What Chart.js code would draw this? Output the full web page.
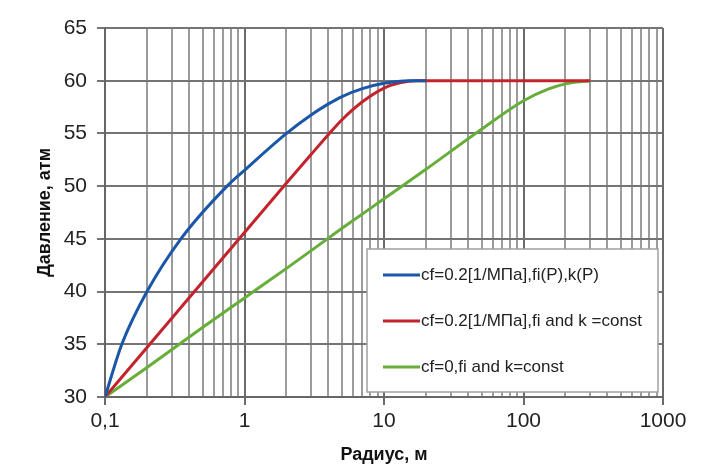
<!DOCTYPE html>
<html lang="ru">
<head>
<meta charset="UTF-8">
<title>Давление vs Радиус</title>
<script src="https://cdn.jsdelivr.net/npm/chart.js@4.4.0/dist/chart.umd.min.js"></script>
<style>
  html, body { margin: 0; padding: 0; background: #fff; }
  #wrap { width: 712px; height: 466px; position: relative; }
</style>
</head>
<body>
<div id="wrap"><canvas id="chart" width="712" height="466"></canvas></div>
<script>
// series (radius in m, pressure in atm)
var blueR = [0.1, 0.132, 0.2, 0.35, 0.75, 1, 2, 3, 4, 5, 7, 10, 15, 20];
var blueP = [30, 35, 40, 45, 50, 51.5, 55, 56.75, 57.8, 58.5, 59.25, 59.75, 60, 60];

var redR = [0.1, 0.2, 0.5, 1, 2, 3, 4, 5, 7, 10, 13, 17, 50, 100, 300];
var redP = [30, 34.7, 40.9, 45.6, 50.3, 53, 54.9, 56.3, 58, 59.3, 59.8, 60, 60, 60, 60];

var greenR = [0.1, 0.2, 0.5, 1, 2, 5, 10, 20, 50, 100, 150, 200, 300];
var greenP = [30, 32.8, 36.6, 39.4, 42.2, 46, 48.8, 51.6, 55.4, 58.1, 59.2, 59.7, 60];

var seriesNames = [
  'cf=0.2[1/МПа],fi(P),k(P)',
  'cf=0.2[1/МПа],fi and k =const',
  'cf=0,fi and k=const'
];
var seriesColors = ['#1b57a8', '#c3242c', '#67ad3a'];

var xTitle = 'Радиус, м';
var yTitle = 'Давление, атм';

function pts(xs, ys) {
  return xs.map(function (x, i) { return { x: x, y: ys[i] }; });
}

function isDecade(v) {
  var l = Math.log10(v);
  return Math.abs(l - Math.round(l)) < 1e-9;
}

var FONT = '"Liberation Sans", Arial, sans-serif';

// legend box drawn inside the plot area
var boxLegend = {
  id: 'boxLegend',
  afterDatasetsDraw: function (chart) {
    var ctx = chart.ctx, a = chart.chartArea;
    var x0 = a.left + 262, y0 = a.top + 221, w = 291, h = 143;
    ctx.save();
    ctx.fillStyle = '#fff';
    ctx.fillRect(x0, y0, w, h);
    ctx.strokeStyle = '#a0a0a0';
    ctx.lineWidth = 1.5;
    ctx.strokeRect(x0, y0, w, h);
    ctx.font = '17px ' + FONT;
    ctx.textBaseline = 'middle';
    chart.data.datasets.forEach(function (ds, i) {
      var yy = y0 + 26 + i * 46;
      ctx.strokeStyle = ds.borderColor;
      ctx.lineWidth = 3;
      ctx.beginPath();
      ctx.moveTo(x0 + 16, yy);
      ctx.lineTo(x0 + 53, yy);
      ctx.stroke();
      ctx.fillStyle = '#222';
      ctx.fillText(ds.label, x0 + 54, yy);
    });
    ctx.restore();
  }
};

new Chart(document.getElementById('chart'), {
  type: 'line',
  data: {
    datasets: [
      { label: seriesNames[0], data: pts(blueR, blueP), borderColor: seriesColors[0] },
      { label: seriesNames[1], data: pts(redR, redP), borderColor: seriesColors[1] },
      { label: seriesNames[2], data: pts(greenR, greenP), borderColor: seriesColors[2] }
    ]
  },
  options: {
    responsive: false,
    animation: false,
    layout: { padding: { top: 28, right: 49, left: 0, bottom: 0 } },
    elements: {
      line: { borderWidth: 3, cubicInterpolationMode: 'monotone', fill: false },
      point: { radius: 0 }
    },
    plugins: {
      legend: { display: false },
      tooltip: { enabled: false }
    },
    scales: {
      x: {
        type: 'logarithmic',
        min: 0.1,
        max: 1000,
        afterBuildTicks: function (scale) {
          var t = [];
          for (var e = -1; e <= 2; e++) {
            for (var m = 1; m <= 9; m++) t.push({ value: m * Math.pow(10, e) });
          }
          t.push({ value: 1000 });
          scale.ticks = t;
        },
        afterFit: function (scale) { scale.height = 69; },
        border: { color: '#666', width: 2 },
        grid: {
          color: function (c) { return c.tick && isDecade(c.tick.value) ? '#6a6a6a' : '#9c9c9c'; },
          lineWidth: 2,
          tickLength: 8,
          tickColor: function (c) { return c.tick && isDecade(c.tick.value) ? '#6a6a6a' : 'rgba(0,0,0,0)'; }
        },
        ticks: {
          autoSkip: false,
          maxRotation: 0,
          padding: 4,
          color: '#222',
          font: { family: FONT, size: 21 },
          callback: function (v) {
            if (!isDecade(v)) return '';
            return v < 1 ? String(v).replace('.', ',') : String(v);
          }
        },
        title: {
          display: true,
          text: xTitle,
          color: '#111',
          padding: { top: 0, bottom: 0 },
          font: { family: FONT, size: 18, weight: 'bold' }
        }
      },
      y: {
        min: 30,
        max: 65,
        afterFit: function (scale) { scale.width = 105; },
        border: { color: '#666', width: 2 },
        grid: {
          color: '#747474',
          lineWidth: 2,
          tickLength: 8,
          tickColor: '#747474'
        },
        ticks: {
          stepSize: 5,
          padding: 10,
          color: '#222',
          font: { family: FONT, size: 21 }
        },
        title: {
          display: true,
          text: yTitle,
          color: '#111',
          padding: { top: 34, bottom: 0 },
          font: { family: FONT, size: 18, weight: 'bold' }
        }
      }
    }
  },
  plugins: [boxLegend]
});
</script>
</body>
</html>
